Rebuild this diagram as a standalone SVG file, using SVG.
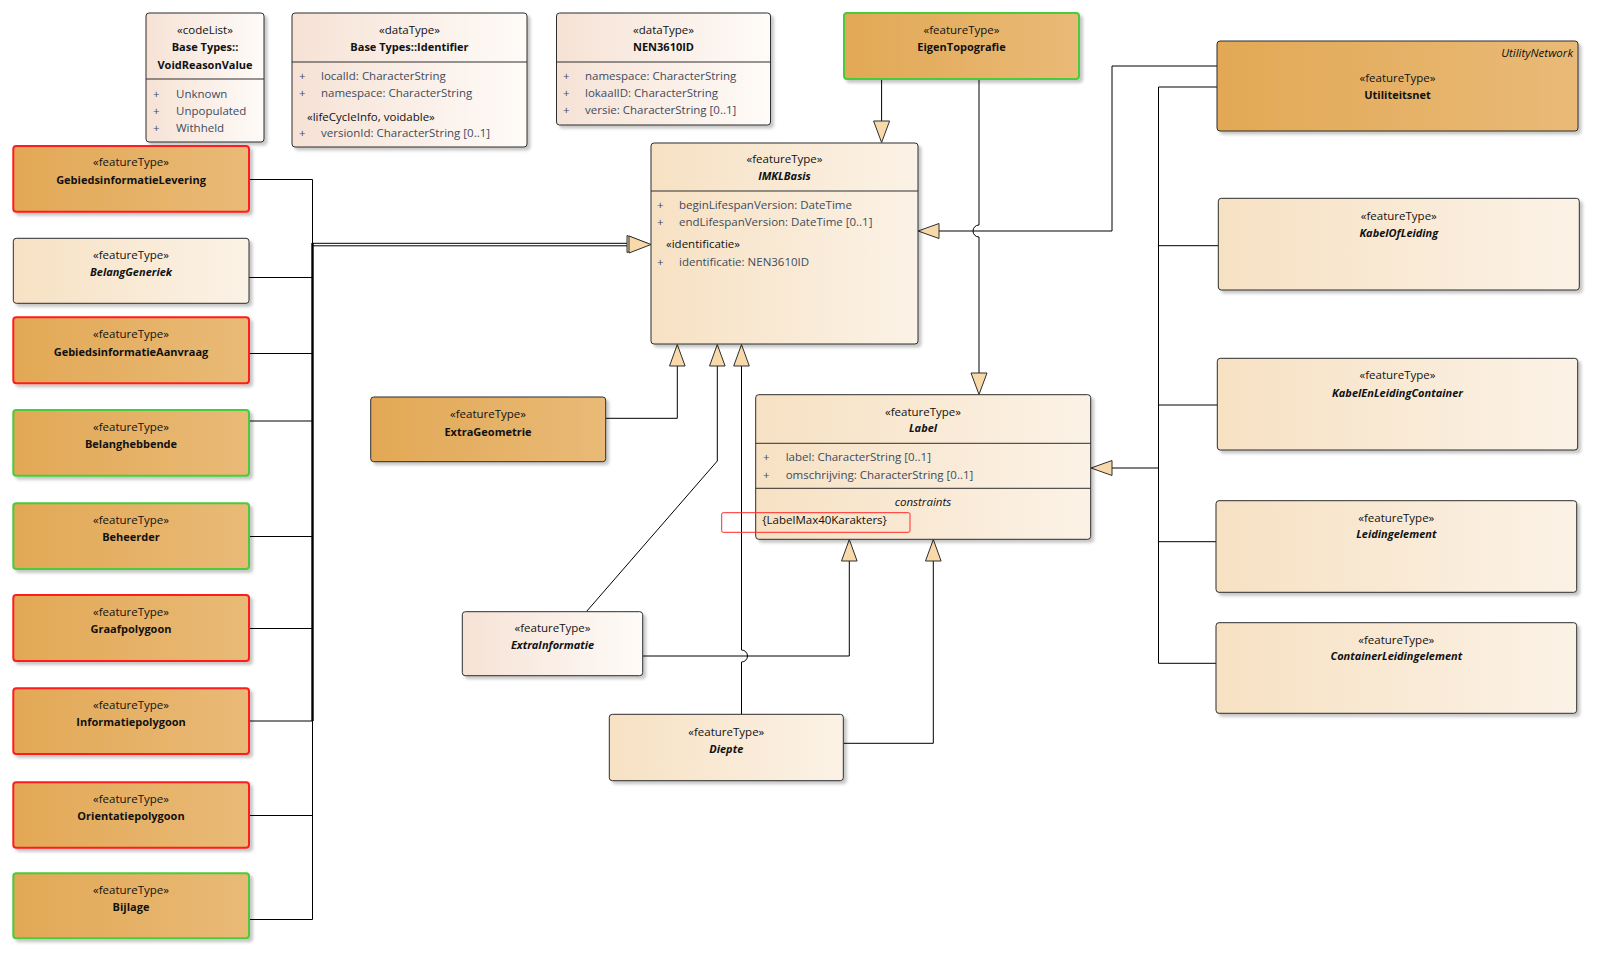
<svg xmlns="http://www.w3.org/2000/svg" width="1602" height="958" viewBox="0 0 1602 958">
<defs>
<linearGradient id="gOr" x1="0" y1="0" x2="1" y2="0"><stop offset="0" stop-color="#E2A855"/><stop offset="1" stop-color="#E9BA77"/></linearGradient>
<linearGradient id="gLt" x1="0" y1="0" x2="1" y2="0"><stop offset="0" stop-color="#F7E1C3"/><stop offset="1" stop-color="#FBF2E6"/></linearGradient>
<linearGradient id="gDt" x1="0" y1="0" x2="1" y2="0"><stop offset="0" stop-color="#F6E2D5"/><stop offset="1" stop-color="#FEFBF8"/></linearGradient>
<filter id="sh" x="-5%" y="-5%" width="115%" height="125%"><feDropShadow dx="3" dy="3" stdDeviation="1.5" flood-color="#000" flood-opacity="0.22"/></filter>
<style>
.box{stroke:#2E2E2E;stroke-width:1;filter:url(#sh)}
.or{fill:url(#gOr)}
.lt{fill:url(#gLt)}
.dt{fill:url(#gDt)}
.red{stroke:#FF1E1E;stroke-width:2}
.grn{stroke:#48CC3A;stroke-width:2}
.div{stroke:#2E2E2E;stroke-width:1}
text{font-family:"Open Sans","Noto Sans","DejaVu Sans",sans-serif;font-size:11.5px;fill:#111}
.c{text-anchor:middle}
.b{font-weight:bold;font-size:11px}
.i{font-style:italic}
.at{fill:#3E4B5C}
.ln{fill:none;stroke:#000;stroke-width:1}
.ah{fill:#F8D9AA;stroke:#2E2E2E;stroke-width:1}
</style>
</defs>
<rect width="1602" height="958" fill="#FFFFFF"/>

<g id="connectors">
<path class="ln" d="M249,179.5H312.5V919.5H249"/>
<path class="ln" style="stroke-width:2.4" d="M312.5,243V721"/>
<path class="ln" d="M249,277.5H312.5M249,353.5H312.5M249,421H312.5M249,536.5H312.5M249,628.5H312.5M249,721H312.5M249,815.5H312.5"/>
<path class="ln" d="M312.5,243.3H629M312.5,245.8H629"/>
<polygon class="ah" points="627,235.5 627,252.5 649,244"/>
<polygon class="ah" points="629,236 629,253 651,244.5"/>
<path class="ln" d="M881.6,79V121"/>
<polygon class="ah" points="873.6,121 889.6,121 881.6,142.5"/>
<path class="ln" d="M979,79V225A6,6 0 0 0 979,237V373"/>
<polygon class="ah" points="971,373 987,373 979,394.5"/>
<path class="ln" d="M1217,66H1112V231H939"/>
<polygon class="ah" points="939,223.5 939,238.5 918,231"/>
<path class="ln" d="M1217,87H1158.5V663.3H1216"/>
<path class="ln" d="M1158.5,245.7H1218.3M1158.5,405H1217.3M1158.5,541.7H1216M1158.5,468H1112"/>
<polygon class="ah" points="1112,460.5 1112,475.5 1091,468"/>
<path class="ln" d="M605.7,418.3H677.3V366"/>
<polygon class="ah" points="669.5,366 685.1,366 677.3,344.5"/>
<path class="ln" d="M586.5,611.5L717.3,461V366"/>
<polygon class="ah" points="709.5,366 725.1,366 717.3,344.5"/>
<path class="ln" d="M741.5,714.3V662A6,6 0 0 0 741.5,650V366"/>
<polygon class="ah" points="733.7,366 749.3,366 741.5,344.5"/>
<path class="ln" d="M642.7,656H849.3V561"/>
<polygon class="ah" points="841.5,561 857.1,561 849.3,539.5"/>
<path class="ln" d="M843.3,743.3H933.3V561"/>
<polygon class="ah" points="925.5,561 941.1,561 933.3,539.5"/>
</g>

<g id="VoidReasonValue">
<rect class="box dt" x="146" y="13" width="118" height="129" rx="3"/>
<text class="c" x="205" y="34">«codeList»</text>
<text class="c b" x="205" y="51">Base Types::</text>
<text class="c b" x="205" y="69">VoidReasonValue</text>
<line class="div" x1="146" y1="79" x2="264" y2="79"/>
<text class="at" x="153" y="98">+</text><text class="at" x="176" y="98">Unknown</text>
<text class="at" x="153" y="115">+</text><text class="at" x="176" y="115">Unpopulated</text>
<text class="at" x="153" y="132">+</text><text class="at" x="176" y="132">Withheld</text>
</g>

<g id="Identifier">
<rect class="box dt" x="292" y="13" width="235" height="134" rx="3"/>
<text class="c" x="409.5" y="34">«dataType»</text>
<text class="c b" x="409.5" y="51">Base Types::Identifier</text>
<line class="div" x1="292" y1="62" x2="527" y2="62"/>
<text class="at" x="299" y="80">+</text><text class="at" x="321" y="80">localId: CharacterString</text>
<text class="at" x="299" y="97">+</text><text class="at" x="321" y="97">namespace: CharacterString</text>
<text x="307" y="121">«lifeCycleInfo, voidable»</text>
<text class="at" x="299" y="137">+</text><text class="at" x="321" y="137">versionId: CharacterString [0..1]</text>
</g>

<g id="NEN3610ID">
<rect class="box dt" x="556.5" y="13" width="214" height="112" rx="3"/>
<text class="c" x="663.5" y="34">«dataType»</text>
<text class="c b" x="663.5" y="51">NEN3610ID</text>
<line class="div" x1="556.5" y1="62" x2="770.5" y2="62"/>
<text class="at" x="563" y="80">+</text><text class="at" x="585" y="80">namespace: CharacterString</text>
<text class="at" x="563" y="97">+</text><text class="at" x="585" y="97">lokaalID: CharacterString</text>
<text class="at" x="563" y="114">+</text><text class="at" x="585" y="114">versie: CharacterString [0..1]</text>
</g>

<g id="EigenTopografie">
<rect class="box or grn" x="844" y="13" width="235" height="66" rx="3"/>
<text class="c" x="961.5" y="34">«featureType»</text>
<text class="c b" x="961.5" y="51">EigenTopografie</text>
</g>

<g id="Utiliteitsnet">
<rect class="box or" x="1217" y="41" width="361" height="90" rx="3"/>
<text class="i" x="1573" y="57" text-anchor="end">UtilityNetwork</text>
<text class="c" x="1397.5" y="82">«featureType»</text>
<text class="c b" x="1397.5" y="99">Utiliteitsnet</text>
</g>

<g id="IMKLBasis">
<rect class="box lt" x="651" y="143" width="267" height="201" rx="3"/>
<text class="c" x="784.5" y="163">«featureType»</text>
<text class="c b i" x="784.5" y="180">IMKLBasis</text>
<line class="div" x1="651" y1="191" x2="918" y2="191"/>
<text class="at" x="657" y="209">+</text><text class="at" x="679" y="209">beginLifespanVersion: DateTime</text>
<text class="at" x="657" y="226">+</text><text class="at" x="679" y="226">endLifespanVersion: DateTime [0..1]</text>
<text x="666" y="248">«identificatie»</text>
<text class="at" x="657" y="266">+</text><text class="at" x="679" y="266">identificatie: NEN3610ID</text>
</g>

<g id="Label">
<rect class="box lt" x="755.7" y="394.7" width="335" height="144.6" rx="3"/>
<text class="c" x="923" y="415.7">«featureType»</text>
<text class="c b i" x="923" y="431.7">Label</text>
<line class="div" x1="755.7" y1="443.3" x2="1090.7" y2="443.3"/>
<text class="at" x="763" y="461.3">+</text><text class="at" x="785.7" y="461.3">label: CharacterString [0..1]</text>
<text class="at" x="763" y="479">+</text><text class="at" x="785.7" y="479">omschrijving: CharacterString [0..1]</text>
<line class="div" x1="755.7" y1="488.3" x2="1090.7" y2="488.3"/>
<text class="c i" x="923" y="505.7">constraints</text>
<text x="762.3" y="524">{LabelMax40Karakters}</text>
<rect x="721.7" y="512.7" width="188.3" height="19.6" rx="1.5" fill="none" stroke="#FF2A2A" stroke-width="1"/>
</g>

<g id="ExtraGeometrie">
<rect class="box or" x="370.7" y="397" width="235" height="64.7" rx="3"/>
<text class="c" x="488" y="418">«featureType»</text>
<text class="c b" x="488" y="435.7">ExtraGeometrie</text>
</g>

<g id="ExtraInformatie">
<rect class="box dt" x="462.3" y="611.7" width="180.4" height="64" rx="3"/>
<text class="c" x="552.5" y="632.3">«featureType»</text>
<text class="c b i" x="552.5" y="649">ExtraInformatie</text>
</g>

<g id="Diepte">
<rect class="box lt" x="609.3" y="714.3" width="234" height="66.4" rx="3"/>
<text class="c" x="726.3" y="735.7">«featureType»</text>
<text class="c b i" x="726.3" y="753">Diepte</text>
</g>

<g id="KabelOfLeiding">
<rect class="box lt" x="1218.3" y="198.3" width="361" height="91.7" rx="3"/>
<text class="c" x="1398.8" y="219.7">«featureType»</text>
<text class="c b i" x="1398.8" y="237.3">KabelOfLeiding</text>
</g>

<g id="KabelEnLeidingContainer">
<rect class="box lt" x="1217.3" y="358.3" width="360.4" height="91.7" rx="3"/>
<text class="c" x="1397.5" y="379">«featureType»</text>
<text class="c b i" x="1397.5" y="397.3">KabelEnLeidingContainer</text>
</g>

<g id="Leidingelement">
<rect class="box lt" x="1216" y="500.7" width="360.7" height="91.6" rx="3"/>
<text class="c" x="1396.3" y="522.3">«featureType»</text>
<text class="c b i" x="1396.3" y="538.3">Leidingelement</text>
</g>

<g id="ContainerLeidingelement">
<rect class="box lt" x="1216" y="622.7" width="360.7" height="90.6" rx="3"/>
<text class="c" x="1396.3" y="644">«featureType»</text>
<text class="c b i" x="1396.3" y="660">ContainerLeidingelement</text>
</g>

<g id="GebiedsinformatieLevering">
<rect class="box or red" x="13.3" y="146" width="235.7" height="65.7" rx="3"/>
<text class="c" x="131" y="166.3">«featureType»</text>
<text class="c b" x="131" y="184">GebiedsinformatieLevering</text>
</g>

<g id="BelangGeneriek">
<rect class="box lt" x="13.3" y="238.3" width="235.7" height="65" rx="3"/>
<text class="c" x="131" y="259">«featureType»</text>
<text class="c b i" x="131" y="276.3">BelangGeneriek</text>
</g>

<g id="GebiedsinformatieAanvraag">
<rect class="box or red" x="13.3" y="317.3" width="235.7" height="66" rx="3"/>
<text class="c" x="131" y="338">«featureType»</text>
<text class="c b" x="131" y="356.3">GebiedsinformatieAanvraag</text>
</g>

<g id="Belanghebbende">
<rect class="box or grn" x="13.3" y="410" width="235.7" height="65.7" rx="3"/>
<text class="c" x="131" y="430.7">«featureType»</text>
<text class="c b" x="131" y="448">Belanghebbende</text>
</g>

<g id="Beheerder">
<rect class="box or grn" x="13.3" y="503.3" width="235.7" height="65.7" rx="3"/>
<text class="c" x="131" y="524">«featureType»</text>
<text class="c b" x="131" y="541.3">Beheerder</text>
</g>

<g id="Graafpolygoon">
<rect class="box or red" x="13.3" y="595" width="235.7" height="66" rx="3"/>
<text class="c" x="131" y="616.3">«featureType»</text>
<text class="c b" x="131" y="633.3">Graafpolygoon</text>
</g>

<g id="Informatiepolygoon">
<rect class="box or red" x="13.3" y="688.3" width="235.7" height="65.7" rx="3"/>
<text class="c" x="131" y="709">«featureType»</text>
<text class="c b" x="131" y="726.3">Informatiepolygoon</text>
</g>

<g id="Orientatiepolygoon">
<rect class="box or red" x="13.3" y="782.3" width="235.7" height="65.4" rx="3"/>
<text class="c" x="131" y="803.3">«featureType»</text>
<text class="c b" x="131" y="820">Orientatiepolygoon</text>
</g>

<g id="Bijlage">
<rect class="box or grn" x="13.3" y="873.3" width="235.7" height="65" rx="3"/>
<text class="c" x="131" y="894">«featureType»</text>
<text class="c b" x="131" y="911.3">Bijlage</text>
</g>
</svg>
